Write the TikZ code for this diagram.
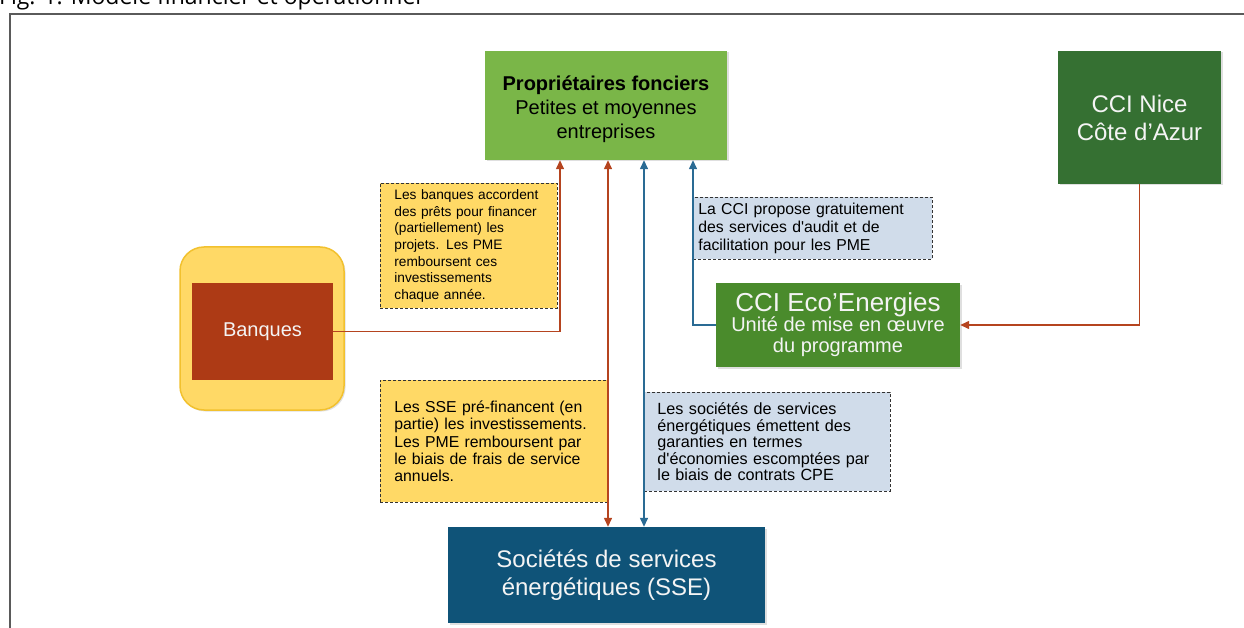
\documentclass[tikz,border=0pt]{standalone}
\usepackage{fontspec}
\setmainfont{Liberation Sans}
\newfontfamily\titlefont{Open Sans}
\usetikzlibrary{arrows.meta,shadows}
\definecolor{propgreen}{HTML}{7AB648}
\definecolor{nicegreen}{HTML}{357032}
\definecolor{ecogreen}{HTML}{4A8B2C}
\definecolor{rust}{HTML}{AD3A15}
\definecolor{bankyellow}{HTML}{FFD966}
\definecolor{bankborder}{HTML}{F2C12E}
\definecolor{ssebblue}{HTML}{0F5378}
\definecolor{noteblue}{HTML}{D0DCEA}
\definecolor{notyellow}{HTML}{FFD966}
\definecolor{arrred}{HTML}{B5441F}
\definecolor{arrblue}{HTML}{2A6B94}
\definecolor{framegray}{HTML}{5A5A5A}
\definecolor{offwhite}{HTML}{F4F4F4}
\newcommand{\sq}{\textquotesingle}
\begin{document}
\begin{tikzpicture}[x=1pt,y=-1pt,
  box/.style={rectangle, inner sep=0pt, align=center,
    drop shadow={opacity=0.25, shadow xshift=1.5pt, shadow yshift=-1.5pt}},
  notebox/.style={rectangle, draw=black!80, densely dashed, line width=0.8pt,
    align=left, anchor=north west, inner ysep=0pt},
  tipstyle/.style={-{Triangle[length=9pt,width=8pt]}},
  redline/.style={draw=arrred, line width=1.4pt},
  blueline/.style={draw=arrblue, line width=1.4pt}]
\useasboundingbox (0,0) rectangle (1244,628);
% outer frame
\draw[framegray, line width=1.5pt, fill=white] (10,14) rectangle (1270,660);
% title (cut at the top)
\node[anchor=base west, inner sep=0pt, font=\titlefont\fontsize{23}{26}\selectfont] (title) at (-1,5) {Fig. 1. Modèle financier et opérationnel};
% reference coordinates for vertical lines
\coordinate (c560) at (560,0);
\coordinate (c608) at (608,0);
\coordinate (c644) at (644,0);
\coordinate (c693) at (693,0);
% notes
\node[notebox, fill=notyellow, minimum width=177pt, minimum height=125pt, inner xsep=14pt, text width=149pt,
  font=\fontsize{13.7}{16.7}\selectfont] (n1) at (380,183)
  {Les banques accordent\\des prêts pour financer\\(partiellement) les\\projets. Les PME\\remboursent ces\\investissements\\chaque année.};
\node[notebox, fill=notyellow, minimum width=227pt, minimum height=122pt, inner xsep=14pt, text width=199pt,
  font=\fontsize{15.8}{17.4}\selectfont] (n2) at (380,380)
  {Les SSE pré-financent (en\\partie) les investissements.\\Les PME remboursent par\\le biais de frais de service\\annuels.};
\node[notebox, fill=noteblue, minimum width=246pt, minimum height=99pt, inner xsep=13pt, text width=220pt,
  font=\fontsize{16.2}{16.6}\selectfont] (n3) at (644,392)
  {Les sociétés de services\\énergétiques émettent des\\garanties en termes\\d\sq économies escomptées par\\le biais de contrats CPE};
\node[notebox, fill=noteblue, minimum width=239pt, minimum height=62pt, inner xsep=5pt, text width=229pt,
  font=\fontsize{15.8}{17.6}\selectfont] (n4) at (693,197)
  {La CCI propose gratuitement\\des services d\sq audit et de\\facilitation pour les PME};
% main boxes
\node[box, fill=propgreen, minimum width=242pt, minimum height=109pt, text=black,
  font=\fontsize{20}{24}\selectfont] (prop) at (606,105.5)
  {\rule{0pt}{23pt}\textbf{Propriétaires fonciers}\\Petites et moyennes\\entreprises};
\node[box, fill=nicegreen, minimum width=163pt, minimum height=133pt, text=offwhite,
  font=\fontsize{24}{28}\selectfont] (nice) at (1139.5,117.5)
  {CCI Nice\\Côte d’Azur};
\node[box, fill=ecogreen, minimum width=244pt, minimum height=84pt, text=offwhite,
  font=\fontsize{20}{21}\selectfont] (eco) at (838,325)
  {{\fontsize{26}{26}\selectfont CCI Eco’Energies}\\[-1pt]Unité de mise en œuvre\\du programme};
\node[box, fill=bankyellow, draw=bankborder, line width=1.5pt, rounded corners=24pt,
  minimum width=164pt, minimum height=163pt] (bankout) at (262,328.5) {};
\node[rectangle, inner sep=0pt, fill=rust, minimum width=141pt, minimum height=97pt, text=offwhite,
  font=\fontsize{20}{24}\selectfont] (bank) at (262.5,331.5) {Banques};
\node[box, fill=ssebblue, minimum width=317pt, minimum height=96pt, text=offwhite,
  font=\fontsize{24}{28}\selectfont] (sse) at (606.5,575)
  {Sociétés de services\\énergétiques (SSE)};
% connectors
\draw[redline, tipstyle] (bank.east) -| (prop.south -| c560);
\draw[redline, tipstyle] (nice.south) |- (eco.east);
\draw[blueline, tipstyle] (eco.west) -| (prop.south -| c693);
\draw[redline, {Triangle[length=9pt,width=8pt]}-{Triangle[length=9pt,width=8pt]}] (prop.south -| c608) -- (sse.north -| c608);
\draw[blueline, {Triangle[length=9pt,width=8pt]}-{Triangle[length=9pt,width=8pt]}] (prop.south -| c644) -- (sse.north -| c644);
\end{tikzpicture}
\end{document}
